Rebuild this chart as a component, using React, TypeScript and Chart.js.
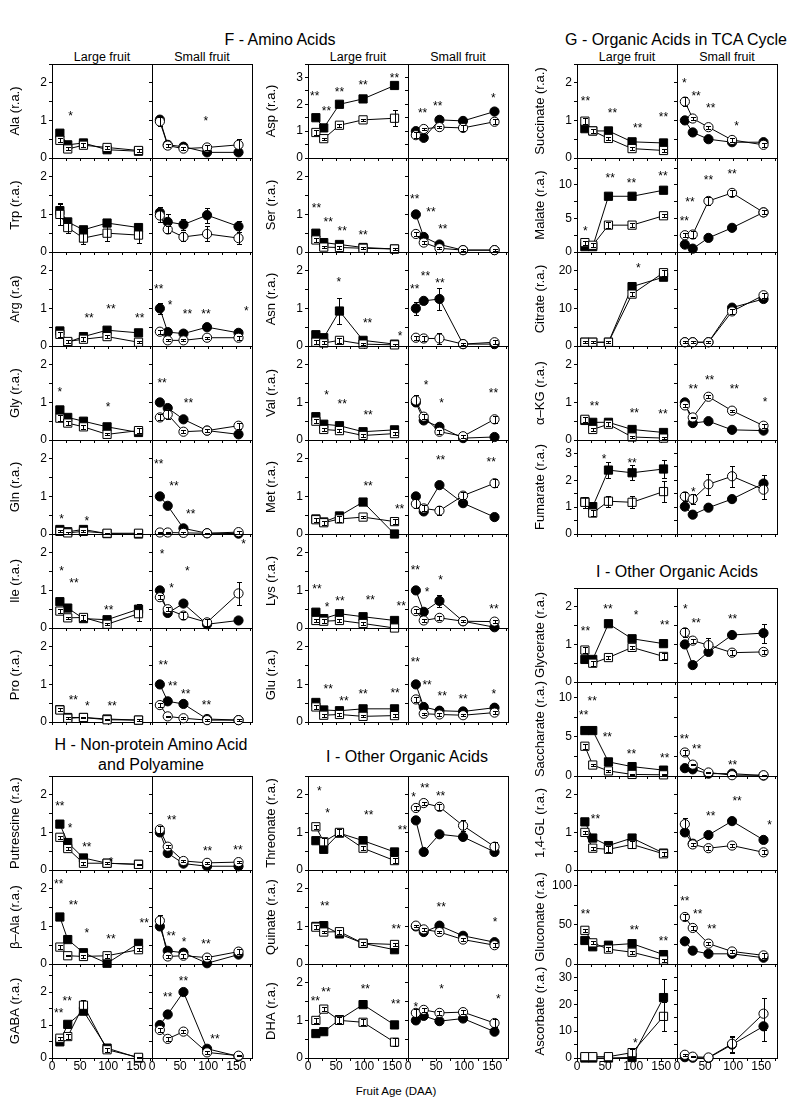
import React, { useEffect, useRef } from 'react';
import { Chart, registerables } from 'chart.js';

Chart.register(...registerables);

const FONT = "'Liberation Sans', Arial, Helvetica, sans-serif";
Chart.defaults.font.family = FONT;
Chart.defaults.color = '#000';

type Star = [number, number, string];

// Fruit age (days after anthesis)
const DAA = [14, 28, 56, 98, 154];
const X_MAX = 178;
const X_TICK_STEP = 25;
const X_LABEL_STEP = 50;
const Z = [0, 0, 0, 0, 0];

// ---------------- F - Amino Acids ----------------
const alaLF = [0.66, 0.35, 0.40, 0.22, 0.18];
const alaLFe = [0.08, 0, 0, 0, 0];
const alaLO = [0.47, 0.24, 0.34, 0.28, 0.20];
const alaLOe = [0.05, 0.04, 0.05, 0.05, 0.04];
const alaSF = [1.02, 0.35, 0.30, 0.15, 0.15];
const alaSFe = [0.10, 0, 0, 0, 0];
const alaSO = [0.97, 0.33, 0.25, 0.28, 0.35];
const alaSOe = [0.12, 0.04, 0.04, 0.07, 0.15];
const alaLStars: Star[] = [[33, 1.2, '*']];
const alaSStars: Star[] = [[96, 1.05, '*']];

const trpLF = [1.1, 0.8, 0.59, 0.77, 0.65];
const trpLFe = [0.2, 0.05, 0.05, 0.05, 0.05];
const trpLO = [1.0, 0.65, 0.37, 0.5, 0.45];
const trpLOe = [0.28, 0.15, 0.15, 0.22, 0.2];
const trpSF = [1.05, 0.8, 0.73, 0.98, 0.68];
const trpSFe = [0.15, 0.2, 0.15, 0.2, 0.15];
const trpSO = [0.97, 0.6, 0.4, 0.48, 0.37];
const trpSOe = [0.18, 0.1, 0.12, 0.2, 0.15];
const trpLStars: Star[] = [];
const trpSStars: Star[] = [];

const argLF = [0.4, 0.1, 0.25, 0.42, 0.35];
const argLO = [0.31, 0.12, 0.18, 0.25, 0.1];
const argLOe = [0.06, 0.03, 0.05, 0.04, 0.03];
const argSF = [1.0, 0.37, 0.33, 0.5, 0.35];
const argSFe = [0.15, 0, 0, 0, 0.05];
const argSO = [0.38, 0.15, 0.15, 0.22, 0.22];
const argSOe = [0.05, 0.03, 0.03, 0.03, 0.05];
const argLStars: Star[] = [[66, 0.82, '**'], [105, 1.06, '**'], [156, 0.82, '**']];
const argSStars: Star[] = [[12, 1.6, '**'], [32, 1.16, '*'], [63, 0.93, '**'], [96, 0.93, '**'], [168, 1.0, '*']];

const glyLF = [0.8, 0.6, 0.5, 0.35, 0.2];
const glyLO = [0.58, 0.45, 0.35, 0.15, 0.25];
const glyLOe = [0.08, 0.05, 0.06, 0.03, 0.07];
const glySF = [1.0, 0.85, 0.55, 0.25, 0.15];
const glySO = [0.6, 0.68, 0.22, 0.25, 0.38];
const glySOe = [0.08, 0.12, 0.04, 0.05, 0.08];
const glyLStars: Star[] = [[14, 1.35, '*'], [100, 0.95, '*']];
const glySStars: Star[] = [[18, 1.6, '**'], [65, 1.06, '**']];

const glnLF = [0.12, 0.06, 0.12, 0.01, 0.0];
const glnLO = [0.07, 0.03, 0.07, 0.02, 0.02];
const glnLOe = [0.03, 0.02, 0.03, 0.01, 0.01];
const glnSF = [1.0, 0.75, 0.15, 0.02, 0.01];
const glnSO = [0.04, 0.04, 0.03, 0.02, 0.05];
const glnSOe = [0.02, 0.02, 0.02, 0.01, 0.04];
const glnLStars: Star[] = [[17, 0.48, '*'], [62, 0.42, '*']];
const glnSStars: Star[] = [[12, 1.95, '**'], [39, 1.35, '**'], [69, 0.62, '**']];

const ileLF = [0.7, 0.53, 0.25, 0.22, 0.5];
const ileLFe = [0, 0, 0, 0, 0.15];
const ileLO = [0.45, 0.27, 0.28, 0.1, 0.38];
const ileLOe = [0.05, 0.03, 0.06, 0.03, 0.2];
const ileSF = [1.0, 0.4, 0.65, 0.1, 0.2];
const ileSO = [0.82, 0.5, 0.33, 0.15, 0.92];
const ileSOe = [0.05, 0.06, 0.1, 0.1, 0.3];
const ileLStars: Star[] = [[17, 1.6, '*'], [39, 1.27, '**'], [101, 0.56, '**']];
const ileSStars: Star[] = [[18, 2.05, '*'], [35, 1.15, '*'], [63, 1.6, '*'], [163, 2.3, '*']];

const proLF = [0.33, 0.12, 0.12, 0.08, 0.05];
const proLO = [0.32, 0.1, 0.12, 0.06, 0.05];
const proLOe = [0.04, 0.02, 0.02, 0.02, 0.02];
const proSF = [1.0, 0.55, 0.48, 0.08, 0.05];
const proSO = [0.45, 0.15, 0.1, 0.05, 0.05];
const proSOe = [0.05, 0.02, 0.02, 0.02, 0.02];
const proLStars: Star[] = [[38, 0.65, '**'], [63, 0.5, '*'], [107, 0.5, '**']];
const proSStars: Star[] = [[20, 1.6, '**'], [37, 1.04, '**'], [60, 0.82, '**'], [97, 0.52, '**']];

const aspLF = [1.5, 1.12, 2.0, 2.2, 2.7];
const aspLO = [0.95, 0.72, 1.22, 1.42, 1.48];
const aspLOe = [0.1, 0.04, 0.06, 0.05, 0.3];
const aspSF = [1.0, 0.75, 1.42, 1.38, 1.73];
const aspSO = [0.85, 1.08, 1.15, 1.12, 1.35];
const aspSOe = [0.1, 0.05, 0.05, 0.1, 0.1];
const aspLStars: Star[] = [[12, 2.43, '**'], [33, 1.87, '**'], [56, 2.55, '**'], [98, 2.84, '**'], [154, 3.09, '**']];
const aspSStars: Star[] = [[26, 1.78, '**'], [53, 2.05, '**'], [152, 2.34, '*']];

const serLF = [0.5, 0.25, 0.2, 0.12, 0.08];
const serLO = [0.32, 0.13, 0.12, 0.1, 0.08];
const serLOe = [0.05, 0.03, 0.03, 0.03, 0.02];
const serSF = [1.0, 0.4, 0.2, 0.05, 0.05];
const serSO = [0.48, 0.25, 0.1, 0.05, 0.05];
const serSOe = [0.05, 0.03, 0.03, 0.02, 0.02];
const serLStars: Star[] = [[15, 1.24, '**'], [36, 0.88, '**'], [61, 0.64, '**'], [98, 0.52, '**']];
const serSStars: Star[] = [[12, 1.48, '**'], [41, 1.15, '**'], [62, 0.68, '**']];

const asnLF = [0.3, 0.22, 0.93, 0.15, 0.05];
const asnLFe = [0.05, 0, 0.35, 0, 0];
const asnLO = [0.1, 0.08, 0.15, 0.05, 0.03];
const asnLOe = [0.05, 0.04, 0.07, 0.02, 0.02];
const asnSF = [1.0, 1.2, 1.25, 0.05, 0.05];
const asnSFe = [0.18, 0.05, 0.28, 0, 0];
const asnSO = [0.22, 0.2, 0.2, 0.05, 0.1];
const asnSOe = [0.05, 0.07, 0.15, 0.02, 0.06];
const asnLStars: Star[] = [[55, 1.78, '*'], [106, 0.69, '**'], [164, 0.35, '*']];
const asnSStars: Star[] = [[12, 1.6, '**'], [31, 1.93, '**'], [57, 1.74, '**']];

const valLF = [0.62, 0.42, 0.38, 0.22, 0.27];
const valLO = [0.5, 0.28, 0.25, 0.12, 0.17];
const valLOe = [0.05, 0.04, 0.05, 0.03, 0.05];
const valSF = [1.0, 0.52, 0.35, 0.05, 0.08];
const valSO = [1.05, 0.62, 0.22, 0.1, 0.55];
const valSOe = [0.15, 0.06, 0.05, 0.04, 0.1];
const valLStars: Star[] = [[33, 1.26, '*'], [61, 1.02, '**'], [107, 0.73, '**']];
const valSStars: Star[] = [[32, 1.53, '*'], [60, 1.06, '*'], [152, 1.33, '**']];

const metLF = [0.4, 0.32, 0.48, 0.85, 0.0];
const metLO = [0.38, 0.3, 0.4, 0.45, 0.33];
const metLOe = [0.05, 0.05, 0.08, 0.03, 0.06];
const metSF = [1.0, 0.6, 1.3, 0.82, 0.45];
const metSFe = [0, 0, 0.08, 0, 0];
const metSO = [0.8, 0.68, 0.62, 1.02, 1.35];
const metSOe = [0.12, 0.08, 0.12, 0.1, 0.1];
const metLStars: Star[] = [[107, 1.35, '**'], [163, 0.75, '**']];
const metSStars: Star[] = [[58, 2.04, '**'], [148, 2.0, '**']];

const lysLF = [0.42, 0.25, 0.38, 0.3, 0.2];
const lysLO = [0.2, 0.18, 0.2, 0.12, 0.0];
const lysLOe = [0.03, 0.06, 0.03, 0.03, 0.01];
const lysSF = [1.0, 0.43, 0.72, 0.18, 0.02];
const lysSFe = [0, 0, 0.15, 0, 0];
const lysSO = [0.45, 0.2, 0.27, 0.18, 0.17];
const lysSOe = [0.05, 0.03, 0.05, 0.02, 0.04];
const lysLStars: Star[] = [[16, 1.12, '**'], [34, 0.64, '*'], [57, 0.8, '**'], [111, 0.82, '**'], [166, 0.65, '**']];
const lysSStars: Star[] = [[13, 1.61, '**'], [34, 1.02, '*'], [58, 1.35, '*'], [153, 0.58, '**']];

const gluLF = [0.52, 0.32, 0.3, 0.35, 0.35];
const gluLO = [0.4, 0.18, 0.2, 0.15, 0.17];
const gluLOe = [0.06, 0.04, 0.04, 0.03, 0.05];
const gluSF = [1.0, 0.4, 0.3, 0.28, 0.38];
const gluSO = [0.6, 0.22, 0.2, 0.18, 0.25];
const gluSOe = [0.06, 0.03, 0.03, 0.03, 0.04];
const gluLStars: Star[] = [[36, 0.96, '**'], [64, 0.64, '**'], [98, 0.81, '**'], [155, 0.84, '**']];
const gluSStars: Star[] = [[13, 1.66, '**'], [34, 1.06, '**'], [61, 0.77, '**'], [98, 0.68, '**'], [153, 0.81, '*']];

// ---------------- H - Non-protein Amino Acid and Polyamine ----------------
const putLF = [1.22, 0.73, 0.32, 0.18, 0.15];
const putLO = [0.87, 0.57, 0.18, 0.18, 0.15];
const putLOe = [0.04, 0.05, 0.04, 0.02, 0.02];
const putSF = [1.0, 0.45, 0.17, 0.1, 0.1];
const putSO = [1.08, 0.62, 0.24, 0.19, 0.21];
const putSOe = [0.1, 0.04, 0.03, 0.03, 0.03];
const putLStars: Star[] = [[14, 1.78, '**'], [32, 1.2, '*'], [62, 0.7, '**'], [105, 0.28, '*']];
const putSStars: Star[] = [[35, 1.4, '**'], [99, 0.58, '**'], [153, 0.62, '**']];

const balaLF = [1.25, 0.65, 0.3, 0.02, 0.55];
const balaLO = [0.45, 0.22, 0.2, 0.22, 0.38];
const balaLOe = [0.06, 0.02, 0.05, 0.05, 0.04];
const balaSF = [1.0, 0.35, 0.3, 0.02, 0.25];
const balaSO = [1.15, 0.2, 0.22, 0.17, 0.33];
const balaSOe = [0.15, 0.04, 0.05, 0.03, 0.06];
const balaLStars: Star[] = [[12, 2.2, '**'], [38, 1.64, '**'], [62, 0.9, '*'], [105, 0.73, '**'], [164, 1.16, '**']];
const balaSStars: Star[] = [[34, 0.82, '**'], [57, 0.66, '*'], [96, 0.62, '**']];

const gabaLF = [0.49, 1.02, 1.42, 0.3, 0.0];
const gabaLO = [0.6, 0.65, 1.6, 0.25, 0.02];
const gabaLOe = [0.05, 0.08, 0.15, 0.06, 0.01];
const gabaSF = [1.0, 1.32, 2.0, 0.28, 0.05];
const gabaSO = [0.85, 0.58, 0.8, 0.17, 0.07];
const gabaSOe = [0.07, 0.05, 0.05, 0.04, 0.02];
const gabaLStars: Star[] = [[12, 1.46, '**'], [27, 1.8, '**']];
const gabaSStars: Star[] = [[28, 1.94, '**'], [56, 2.42, '**'], [112, 0.66, '**']];

// ---------------- I - Other Organic Acids (middle) ----------------
const thrLF = [0.78, 0.55, 0.98, 0.78, 0.48];
const thrLO = [1.15, 0.75, 1.0, 0.58, 0.25];
const thrLOe = [0.06, 0.1, 0.08, 0.05, 0.07];
const thrSF = [1.32, 0.48, 0.95, 0.88, 0.48];
const thrSO = [1.65, 1.78, 1.68, 1.18, 0.62];
const thrSOe = [0.05, 0.04, 0.08, 0.15, 0.12];
const thrLStars: Star[] = [[20, 2.18, '*'], [35, 1.58, '*'], [108, 1.53, '**'], [168, 1.13, '**']];
const thrSStars: Star[] = [[10, 2.02, '*'], [30, 2.26, '**'], [58, 2.04, '**']];

const quiLF = [1.0, 1.02, 0.8, 0.55, 0.38];
const quiLO = [0.98, 0.85, 0.86, 0.55, 0.52];
const quiLOe = [0.05, 0.03, 0.05, 0.04, 0.03];
const quiSF = [1.0, 0.85, 1.02, 0.75, 0.58];
const quiSO = [1.02, 0.92, 0.85, 0.65, 0.5];
const quiSOe = [0.03, 0.03, 0.02, 0.04, 0.05];
const quiLStars: Star[] = [[30, 1.62, '**'], [157, 1.0, '**']];
const quiSStars: Star[] = [[59, 1.6, '**'], [155, 1.2, '*']];

const dhaLF = [0.65, 0.7, 1.02, 1.42, 0.88];
const dhaLO = [1.0, 1.3, 1.0, 0.95, 0.42];
const dhaLOe = [0.06, 0.05, 0.08, 0.08, 0.1];
const dhaSF = [1.0, 1.12, 0.98, 1.05, 0.7];
const dhaSO = [1.2, 1.28, 1.2, 1.22, 0.93];
const dhaSOe = [0.1, 0.06, 0.06, 0.06, 0.1];
const dhaLStars: Star[] = [[13, 1.58, '**'], [32, 1.83, '**'], [102, 1.9, '**'], [156, 1.5, '**']];
const dhaSStars: Star[] = [[14, 1.42, '*'], [60, 1.92, '*'], [161, 1.65, '*']];

// ---------------- G - Organic Acids in TCA Cycle ----------------
const sucLF = [0.78, 0.72, 0.72, 0.43, 0.4];
const sucLO = [0.98, 0.72, 0.52, 0.25, 0.2];
const sucLOe = [0.08, 0.05, 0.05, 0.04, 0.03];
const sucSF = [1.0, 0.68, 0.5, 0.42, 0.42];
const sucSO = [1.5, 1.05, 0.82, 0.48, 0.35];
const sucSOe = [0.12, 0.04, 0.04, 0.05, 0.06];
const sucLStars: Star[] = [[15, 1.6, '**'], [63, 1.28, '**'], [108, 0.88, '**'], [154, 1.17, '**']];
const sucSStars: Star[] = [[13, 2.08, '*'], [34, 1.72, '**'], [60, 1.41, '**'], [106, 0.93, '*']];

const malLF = [0.8, 0.8, 8.3, 8.3, 9.2];
const malLO = [1.4, 1.0, 4.0, 4.0, 5.4];
const malLOe = [0.3, 0.3, 0.4, 0.3, 0.25];
const malSF = [1.1, 0.5, 2.1, 3.6, 5.9];
const malSO = [2.5, 2.6, 7.6, 8.8, 5.9];
const malSOe = [0.3, 0.5, 0.6, 0.5, 0.3];
const malLStars: Star[] = [[15, 3.6, '*'], [59, 11.4, '**'], [97, 10.7, '**'], [153, 11.8, '**']];
const malSStars: Star[] = [[13, 5.0, '**'], [23, 7.9, '**'], [56, 11.2, '**'], [98, 12.1, '**']];

const citLF = [1, 1, 1, 15.8, 18.3];
const citLO = [1, 1, 1, 13.8, 19.5];
const citLOe = [0.3, 0.3, 0.3, 0.6, 0.8];
const citSF = [1, 1, 1, 10.2, 12.5];
const citSO = [1, 1, 1, 9.2, 13.5];
const citSOe = [0.3, 0.3, 0.3, 0.6, 0.7];
const citLStars: Star[] = [[109, 21.6, '*']];
const citSStars: Star[] = [];

const akgLF = [0.52, 0.47, 0.47, 0.28, 0.2];
const akgLO = [0.55, 0.28, 0.42, 0.08, 0.05];
const akgLOe = [0.06, 0.03, 0.05, 0.03, 0.02];
const akgSF = [1.0, 0.45, 0.5, 0.27, 0.25];
const akgSO = [0.92, 0.6, 1.15, 0.78, 0.38];
const akgSOe = [0.05, 0.02, 0.04, 0.03, 0.05];
const akgLStars: Star[] = [[31, 0.99, '**'], [102, 0.8, '**'], [153, 0.78, '**']];
const akgSStars: Star[] = [[29, 1.42, '**'], [58, 1.66, '**'], [102, 1.42, '**'], [157, 1.08, '*']];

const fumLF = [1.2, 1.02, 2.38, 2.28, 2.42];
const fumLFe = [0.15, 0.1, 0.3, 0.28, 0.32];
const fumLO = [1.18, 0.78, 1.22, 1.18, 1.58];
const fumLOe = [0.2, 0.12, 0.2, 0.22, 0.38];
const fumSF = [1.02, 0.72, 0.98, 1.3, 1.88];
const fumSFe = [0, 0, 0, 0, 0.3];
const fumSO = [1.4, 1.3, 1.85, 2.15, 1.65];
const fumSOe = [0.18, 0.2, 0.4, 0.4, 0.35];
const fumLStars: Star[] = [[48, 2.9, '*'], [98, 2.75, '**']];
const fumSStars: Star[] = [[29, 1.67, '*']];

// ---------------- I - Other Organic Acids (right) ----------------
const glycLF = [0.6, 0.6, 1.55, 1.15, 1.02];
const glycLFe = [0, 0, 0.05, 0, 0];
const glycLO = [0.85, 0.5, 0.65, 0.92, 0.68];
const glycLOe = [0.08, 0.07, 0.04, 0.05, 0.08];
const glycSF = [1.0, 0.45, 0.8, 1.25, 1.3];
const glycSFe = [0, 0, 0, 0, 0.25];
const glycSO = [1.32, 1.1, 0.98, 0.78, 0.8];
const glycSOe = [0.12, 0.05, 0.2, 0.06, 0.05];
const glycLStars: Star[] = [[15, 1.42, '**'], [55, 2.02, '**'], [105, 1.86, '*'], [156, 1.59, '**']];
const glycSStars: Star[] = [[15, 2.01, '*'], [34, 1.64, '**'], [99, 1.75, '**']];

const sacLF = [5.8, 5.8, 1.8, 1.2, 0.75];
const sacLO = [3.8, 1.4, 0.65, 0.2, 0.15];
const sacLOe = [0.3, 0.15, 0.1, 0.05, 0.05];
const sacSF = [1.0, 0.85, 0.3, 0.3, 0.05];
const sacSO = [3.0, 1.45, 0.45, 0.1, 0.1];
const sacSOe = [0.3, 0.1, 0.05, 0.05, 0.05];
const sacLStars: Star[] = [[12, 8.2, '**'], [27, 9.9, '**'], [54, 5.3, '**'], [97, 3.2, '**'], [156, 2.6, '**']];
const sacSStars: Star[] = [[13, 5.1, '**'], [35, 3.8, '**'], [99, 1.74, '**']];

const glLF = [1.28, 0.85, 0.65, 0.85, 0.45];
const glLFe = [0.08, 0, 0, 0, 0];
const glLO = [1.0, 0.58, 0.55, 0.68, 0.43];
const glLOe = [0.04, 0.04, 0.08, 0.1, 0.06];
const glSF = [1.0, 0.7, 0.93, 1.3, 0.8];
const glSO = [1.22, 0.68, 0.58, 0.65, 0.47];
const glSOe = [0.15, 0.03, 0.05, 0.04, 0.05];
const glLStars: Star[] = [[33, 1.42, '**']];
const glSStars: Star[] = [[60, 1.52, '**'], [107, 1.9, '**'], [165, 1.28, '*']];

const gcnLF = [30, 22, 24, 26, 12];
const gcnLFe = [0, 3, 0, 0, 0];
const gcnLO = [43, 27, 19, 15, 5];
const gcnLOe = [2, 2, 3, 2, 2];
const gcnSF = [29, 17, 13, 13, 8];
const gcnSO = [60, 46, 26, 16, 11];
const gcnSOe = [4, 2, 2, 2, 3];
const gcnLStars: Star[] = [[15, 68, '**'], [102, 47, '**'], [154, 33, '**']];
const gcnSStars: Star[] = [[14, 84, '**'], [37, 67, '**'], [62, 48, '**']];

const ascLF = [0, 0, 0, 0.2, 22.5];
const ascLFe = [0, 0, 0, 0, 7];
const ascLO = [0.5, 0.5, 0.5, 2, 15.5];
const ascLOe = [0, 0, 0, 1.5, 5.5];
const ascSF = [0.3, 0.1, 0.0, 5, 11.8];
const ascSFe = [0, 0, 0, 3, 5.5];
const ascSO = [1.2, 0.5, 0.2, 5.3, 16.5];
const ascSOe = [0.4, 0.3, 0, 3, 6];
const ascLStars: Star[] = [[104, 6.8, '*']];
const ascSStars: Star[] = [];

// ---------------- panel table ----------------
type Side = { F: number[]; Fe: number[]; O: number[]; Oe: number[]; stars: Star[] };
type Metab = { title: string; yMax: number; yStep: number; yMajor: number; L: Side; S: Side };

const side = (F: number[], Fe: number[], O: number[], Oe: number[], stars: Star[]): Side => ({ F, Fe, O, Oe, stars });
const metab = (title: string, yMax: number, yStep: number, yMajor: number, L: Side, S: Side): Metab => ({ title, yMax, yStep, yMajor, L, S });

const ala = metab('Ala (r.a.)', 2.5, 0.5, 1, side(alaLF, alaLFe, alaLO, alaLOe, alaLStars), side(alaSF, alaSFe, alaSO, alaSOe, alaSStars));
const trp = metab('Trp (r.a.)', 2.5, 0.5, 1, side(trpLF, trpLFe, trpLO, trpLOe, trpLStars), side(trpSF, trpSFe, trpSO, trpSOe, trpSStars));
const arg = metab('Arg (r.a)', 2.5, 0.5, 1, side(argLF, Z, argLO, argLOe, argLStars), side(argSF, argSFe, argSO, argSOe, argSStars));
const gly = metab('Gly (r.a.)', 2.5, 0.5, 1, side(glyLF, Z, glyLO, glyLOe, glyLStars), side(glySF, Z, glySO, glySOe, glySStars));
const gln = metab('Gln (r.a.)', 2.5, 0.5, 1, side(glnLF, Z, glnLO, glnLOe, glnLStars), side(glnSF, Z, glnSO, glnSOe, glnSStars));
const ile = metab('Ile (r.a.)', 2.5, 0.5, 1, side(ileLF, ileLFe, ileLO, ileLOe, ileLStars), side(ileSF, Z, ileSO, ileSOe, ileSStars));
const pro = metab('Pro (r.a.)', 2.5, 0.5, 1, side(proLF, Z, proLO, proLOe, proLStars), side(proSF, Z, proSO, proSOe, proSStars));
const put = metab('Putrescine (r.a.)', 2.5, 0.5, 1, side(putLF, Z, putLO, putLOe, putLStars), side(putSF, Z, putSO, putSOe, putSStars));
const bala = metab('β–Ala (r.a.)', 2.5, 0.5, 1, side(balaLF, Z, balaLO, balaLOe, balaLStars), side(balaSF, Z, balaSO, balaSOe, balaSStars));
const gaba = metab('GABA (r.a.)', 2.85, 0.5, 1, side(gabaLF, Z, gabaLO, gabaLOe, gabaLStars), side(gabaSF, Z, gabaSO, gabaSOe, gabaSStars));

const asp = metab('Asp (r.a.)', 3.5, 0.5, 1, side(aspLF, Z, aspLO, aspLOe, aspLStars), side(aspSF, Z, aspSO, aspSOe, aspSStars));
const ser = metab('Ser (r.a.)', 2.5, 0.5, 1, side(serLF, Z, serLO, serLOe, serLStars), side(serSF, Z, serSO, serSOe, serSStars));
const asn = metab('Asn (r.a.)', 2.5, 0.5, 1, side(asnLF, asnLFe, asnLO, asnLOe, asnLStars), side(asnSF, asnSFe, asnSO, asnSOe, asnSStars));
const val = metab('Val (r.a.)', 2.5, 0.5, 1, side(valLF, Z, valLO, valLOe, valLStars), side(valSF, Z, valSO, valSOe, valSStars));
const met = metab('Met (r.a.)', 2.5, 0.5, 1, side(metLF, Z, metLO, metLOe, metLStars), side(metSF, metSFe, metSO, metSOe, metSStars));
const lys = metab('Lys (r.a.)', 2.5, 0.5, 1, side(lysLF, Z, lysLO, lysLOe, lysLStars), side(lysSF, lysSFe, lysSO, lysSOe, lysSStars));
const glu = metab('Glu (r.a.)', 2.5, 0.5, 1, side(gluLF, Z, gluLO, gluLOe, gluLStars), side(gluSF, Z, gluSO, gluSOe, gluSStars));
const thr = metab('Threonate (r.a.)', 2.5, 0.5, 1, side(thrLF, Z, thrLO, thrLOe, thrLStars), side(thrSF, Z, thrSO, thrSOe, thrSStars));
const qui = metab('Quinate (r.a.)', 2.5, 0.5, 1, side(quiLF, Z, quiLO, quiLOe, quiLStars), side(quiSF, Z, quiSO, quiSOe, quiSStars));
const dha = metab('DHA (r.a.)', 2.5, 0.5, 1, side(dhaLF, Z, dhaLO, dhaLOe, dhaLStars), side(dhaSF, Z, dhaSO, dhaSOe, dhaSStars));

const suc = metab('Succinate (r.a.)', 2.5, 0.5, 1, side(sucLF, Z, sucLO, sucLOe, sucLStars), side(sucSF, Z, sucSO, sucSOe, sucSStars));
const mal = metab('Malate (r.a.)', 14, 2.5, 5, side(malLF, Z, malLO, malLOe, malLStars), side(malSF, Z, malSO, malSOe, malSStars));
const cit = metab('Citrate (r.a.)', 25, 5, 10, side(citLF, Z, citLO, citLOe, citLStars), side(citSF, Z, citSO, citSOe, citSStars));
const akg = metab('α–KG (r.a.)', 2.5, 0.5, 1, side(akgLF, Z, akgLO, akgLOe, akgLStars), side(akgSF, Z, akgSO, akgSOe, akgSStars));
const fum = metab('Fumarate (r.a.)', 3.5, 0.5, 1, side(fumLF, fumLFe, fumLO, fumLOe, fumLStars), side(fumSF, fumSFe, fumSO, fumSOe, fumSStars));
const glyc = metab('Glycerate (r.a.)', 2.5, 0.5, 1, side(glycLF, glycLFe, glycLO, glycLOe, glycLStars), side(glycSF, glycSFe, glycSO, glycSOe, glycSStars));
const sac = metab('Saccharate (r.a.)', 12, 2.5, 5, side(sacLF, Z, sacLO, sacLOe, sacLStars), side(sacSF, Z, sacSO, sacSOe, sacSStars));
const gl14 = metab('1,4-GL (r.a.)', 2.5, 0.5, 1, side(glLF, glLFe, glLO, glLOe, glLStars), side(glSF, Z, glSO, glSOe, glSStars));
const gcn = metab('Gluconate (r.a.)', 120, 25, 50, side(gcnLF, gcnLFe, gcnLO, gcnLOe, gcnLStars), side(gcnSF, Z, gcnSO, gcnSOe, gcnSStars));
const asc = metab('Ascorbate (r.a.)', 35, 5, 10, side(ascLF, ascLFe, ascLO, ascLOe, ascLStars), side(ascSF, ascSFe, ascSO, ascSOe, ascSStars));

// ---------------- layout ----------------
const ROW_H = 94;
const SUB_W = 100;
const FIG_BOTTOM = 1058;

const COLUMNS = [
  { x: 52, blocks: [{ top: 64, rows: [ala, trp, arg, gly, gln, ile, pro] }, { top: 776, rows: [put, bala, gaba] }] },
  { x: 308, blocks: [{ top: 64, rows: [asp, ser, asn, val, met, lys, glu] }, { top: 776, rows: [thr, qui, dha] }] },
  { x: 577, blocks: [{ top: 64, rows: [suc, mal, cit, akg, fum] }, { top: 588, rows: [glyc, sac, gl14, gcn, asc] }] },
];

const TEXTS = [
  { t: 'F - Amino Acids', x: 280, y: 40, s: 16 },
  { t: 'G - Organic Acids in TCA Cycle', x: 676, y: 40, s: 16 },
  { t: 'H - Non-protein Amino Acid', x: 151, y: 745, s: 16 },
  { t: 'and Polyamine', x: 151, y: 765, s: 16 },
  { t: 'I - Other Organic Acids', x: 407, y: 757, s: 16 },
  { t: 'I - Other Organic Acids', x: 677, y: 572, s: 16 },
  { t: 'Fruit Age (DAA)', x: 396, y: 1092, s: 11.5 },
];

const alignPx = (p: number) => Math.round(p - 0.5) + 0.5;

function SubChart({ axisX, top, m, kind, showX }: { axisX: number; top: number; m: Metab; kind: 'L' | 'S'; showX: boolean }) {
  const ref = useRef<HTMLCanvasElement>(null);
  const L = kind === 'L' ? 48 : 10;
  const R = 8;
  const T = 10;
  const B = showX ? 24 : 10;
  const W = SUB_W + L + R;
  const H = ROW_H + T + B;

  useEffect(() => {
    const s = kind === 'L' ? m.L : m.S;
    const shape = kind === 'L' ? 'rect' : 'circle';
    const radius = kind === 'L' ? 5.8 : 4.6;
    const mk = (vals: number[], errs: number[], fill: string) => ({
      data: DAA.map((x, i) => ({ x, y: vals[i] })),
      errors: errs,
      borderColor: '#000',
      borderWidth: 1,
      fill: false,
      tension: 0,
      pointStyle: shape,
      pointRadius: radius,
      pointBackgroundColor: fill,
      pointBorderColor: '#000',
      pointBorderWidth: 1,
      clip: false,
    });
    const isMajor = (v: number) => Math.abs(v / m.yMajor - Math.round(v / m.yMajor)) < 1e-6;
    const gridOpts = { display: true, drawOnChartArea: false, drawTicks: true, tickLength: 3, color: '#000', lineWidth: 1 };
    const borderOpts = { display: true, color: '#000', width: 1 };

    const framePlugin = {
      id: 'frame',
      beforeDatasetsDraw(chart: any) {
        const { ctx, chartArea: a } = chart;
        ctx.save();
        ctx.strokeStyle = '#000';
        ctx.lineWidth = 1;
        const l = alignPx(a.left), r = alignPx(a.right), t = alignPx(a.top), b = alignPx(a.bottom);
        ctx.strokeRect(l, t, r - l, b - t);
        ctx.restore();
      },
    };
    const errPlugin = {
      id: 'errbars',
      afterDatasetDraw(chart: any, args: any) {
        const ds: any = chart.data.datasets[args.index];
        const errs: number[] = ds.errors;
        if (!errs) return;
        const ys = chart.scales.y;
        const ctx = chart.ctx;
        ctx.save();
        ctx.strokeStyle = '#000';
        ctx.lineWidth = 1;
        args.meta.data.forEach((pt: any, i: number) => {
          const e = errs[i];
          if (!e) return;
          const v = ds.data[i].y;
          const y1 = Math.round(ys.getPixelForValue(v + e)) + 0.5;
          const y2 = Math.round(ys.getPixelForValue(v - e)) + 0.5;
          const x = Math.round(pt.x) + 0.5;
          ctx.beginPath();
          ctx.moveTo(x, y1);
          ctx.lineTo(x, y2);
          ctx.moveTo(x - 2.5, y1);
          ctx.lineTo(x + 2.5, y1);
          ctx.moveTo(x - 2.5, y2);
          ctx.lineTo(x + 2.5, y2);
          ctx.stroke();
        });
        ctx.restore();
      },
    };
    const starPlugin = {
      id: 'stars',
      afterDatasetsDraw(chart: any) {
        const ctx = chart.ctx;
        const size = 12;
        ctx.save();
        ctx.fillStyle = '#000';
        ctx.font = `${size}px ${FONT}`;
        ctx.textAlign = 'center';
        ctx.textBaseline = 'alphabetic';
        for (const [xv, yv, txt] of s.stars) {
          const px = chart.scales.x.getPixelForValue(xv);
          const py = chart.scales.y.getPixelForValue(yv);
          ctx.fillText(txt, px, py + 0.57 * size);
        }
        ctx.restore();
      },
    };

    const chart = new Chart(ref.current as HTMLCanvasElement, {
      type: 'line',
      data: { datasets: [mk(s.O, s.Oe, '#fff'), mk(s.F, s.Fe, '#000')] as any },
      options: {
        responsive: false,
        animation: false,
        events: [],
        layout: { padding: { top: T, right: R, left: 0, bottom: 0 } },
        plugins: { legend: { display: false }, tooltip: { enabled: false }, title: { display: false } },
        scales: {
          x: {
            type: 'linear',
            position: 'bottom',
            min: 0,
            max: X_MAX,
            grid: gridOpts,
            border: borderOpts,
            ticks: {
              display: showX,
              stepSize: X_TICK_STEP,
              includeBounds: false,
              autoSkip: false,
              maxRotation: 0,
              minRotation: 0,
              padding: 0,
              color: '#000',
              font: { size: 12, lineHeight: 1 },
              callback: (v: any) => (Number(v) % X_LABEL_STEP === 0 ? String(v) : ''),
            },
            afterFit: (sc: any) => { sc.height = B; },
          },
          y: {
            type: 'linear',
            position: 'left',
            min: 0,
            max: m.yMax,
            grid: gridOpts,
            border: borderOpts,
            ticks: {
              display: kind === 'L',
              stepSize: m.yStep,
              includeBounds: false,
              autoSkip: false,
              padding: 2,
              color: '#000',
              font: { size: 12, lineHeight: 1 },
              callback: (v: any) => (isMajor(Number(v)) ? String(v) : ''),
            },
            title: {
              display: kind === 'L',
              text: m.title,
              color: '#000',
              font: { size: 13, lineHeight: 1.15 },
              padding: { top: 4, bottom: 0 },
            },
            afterFit: (sc: any) => { sc.width = L; },
          },
        },
      } as any,
      plugins: [framePlugin, errPlugin, starPlugin],
    });
    return () => chart.destroy();
  }, []);

  return (
    <canvas
      ref={ref}
      width={W}
      height={H}
      style={{ position: 'absolute', left: axisX - L, top: top - T, width: W, height: H }}
    />
  );
}

export default function App() {
  const charts: React.ReactNode[] = [];
  const headers: React.ReactNode[] = [];
  COLUMNS.forEach((col, ci) => {
    headers.push(
      <div key={`hl${ci}`} style={{ ...textStyle(12.5), left: col.x + SUB_W / 2, top: 57 }}>Large fruit</div>,
      <div key={`hs${ci}`} style={{ ...textStyle(12.5), left: col.x + SUB_W * 1.5, top: 57 }}>Small fruit</div>,
    );
    col.blocks.forEach((blk, bi) => {
      blk.rows.forEach((m, ri) => {
        const top = blk.top + ri * ROW_H;
        const showX = top + ROW_H === FIG_BOTTOM;
        charts.push(<SubChart key={`${ci}-${bi}-${ri}-L`} axisX={col.x} top={top} m={m} kind="L" showX={showX} />);
        charts.push(<SubChart key={`${ci}-${bi}-${ri}-S`} axisX={col.x + SUB_W} top={top} m={m} kind="S" showX={showX} />);
      });
    });
  });
  return (
    <div style={{ position: 'absolute', left: 0, top: 0, width: 787, height: 1101, background: '#fff', overflow: 'hidden', fontFamily: FONT }}>
      {TEXTS.map((t, i) => (
        <div key={`t${i}`} style={{ ...textStyle(t.s), left: t.x, top: t.y }}>{t.t}</div>
      ))}
      {headers}
      {charts}
    </div>
  );
}

function textStyle(size: number): React.CSSProperties {
  return {
    position: 'absolute',
    transform: 'translate(-50%, -50%)',
    whiteSpace: 'nowrap',
    fontSize: size,
    lineHeight: 1,
    color: '#000',
    fontFamily: FONT,
  };
}
